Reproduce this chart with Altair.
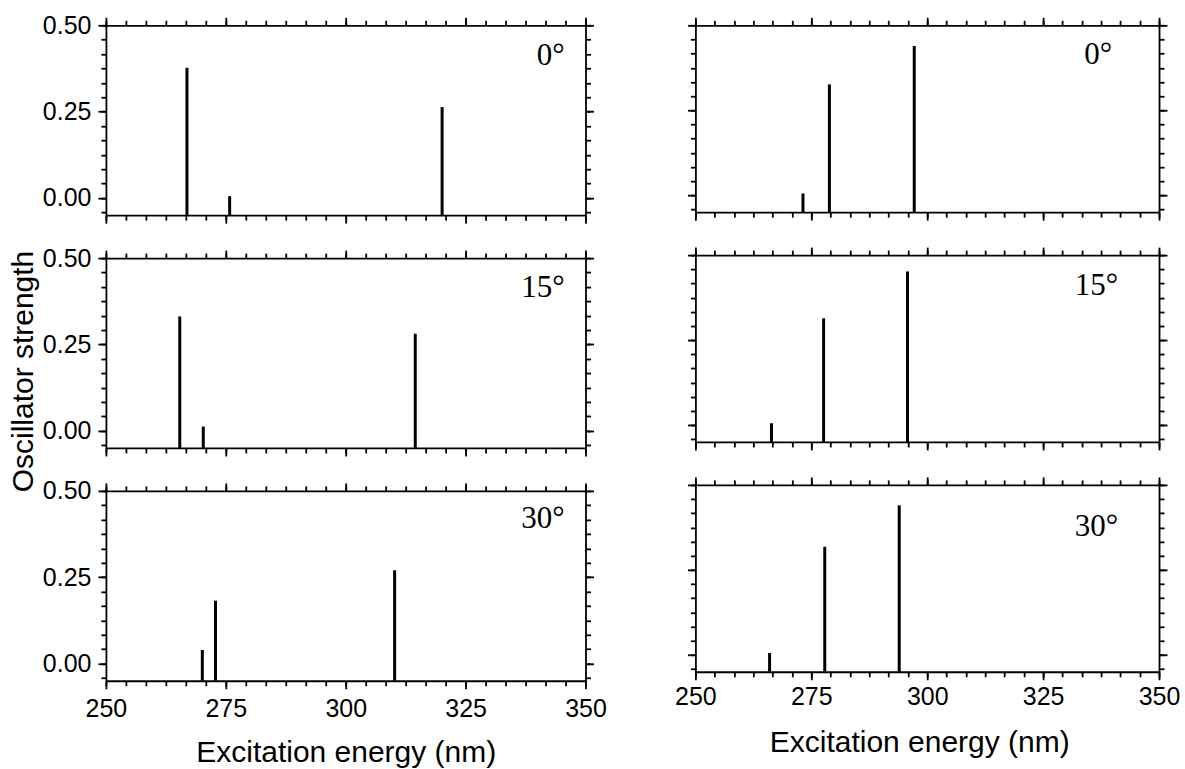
import altair as alt
import pandas as pd

# ---------------- data ----------------
angles = ["0°", "15°", "30°"]

left_nm = [[266.9, 275.8, 320.1],
           [265.4, 270.3, 314.5],
           [270.1, 272.85, 310.2]]
left_f = [[0.377, 0.005, 0.263],
          [0.331, 0.012, 0.281],
          [0.039, 0.182, 0.270]]

right_nm = [[273.2, 278.9, 297.2],
            [266.4, 277.65, 295.75],
            [266.0, 277.9, 293.96]]
right_f = [[0.005, 0.326, 0.439],
           [0.005, 0.314, 0.452],
           [0.005, 0.318, 0.440]]

x_major = [250, 275, 300, 325, 350]
y_major = [0.0, 0.25, 0.5]
x_minor = [250 + k * 25 / 6 for k in range(25)]
y_minor = [-0.25 / 6 + k * 0.25 / 6 for k in range(14)]

SANS = "Liberation Sans"
SERIF = "Liberation Serif"
LAB_FS = 25
TITLE_FS = 30
LW = 1.8


def x_axis(orient, major, labels, title_kw, lab_pad=8):
    kw = dict(orient=orient, grid=False, tickColor="black", tickWidth=LW,
              labelFlush=False, labelOverlap=False)
    if major:
        kw.update(values=x_major, tickSize=8, domain=True, domainColor="black",
                  domainWidth=LW, labels=labels)
        if labels:
            kw.update(format="d", labelFont=SANS, labelFontSize=LAB_FS,
                      labelColor="black", labelPadding=lab_pad)
    else:
        kw.update(values=x_minor, tickSize=5, domain=False, labels=False)
    kw.update(title_kw)
    return alt.Axis(**kw)


def y_axis(orient, major, labels, title_kw):
    kw = dict(orient=orient, grid=False, tickColor="black", tickWidth=LW,
              labelFlush=False, labelOverlap=False)
    if major:
        kw.update(values=y_major, tickSize=8, domain=True, domainColor="black",
                  domainWidth=LW, labels=labels)
        if labels:
            kw.update(format=".2f", labelFont=SANS, labelFontSize=LAB_FS,
                      labelColor="black", labelPadding=7)
    else:
        kw.update(values=y_minor, tickSize=5, domain=False, labels=False)
    kw.update(title_kw)
    return alt.Axis(**kw)


def panel(nm, f, label, W, H, xlabels, ylabels, xtitle_kw, ytitle_kw, lab_x, lab_y,
          lab_pad=8, top_space=0):
    df = pd.DataFrame({"nm": nm, "f": f})
    xs = alt.Scale(domain=[250, 350], nice=False, zero=False)
    ys = alt.Scale(domain=[-0.05, 0.5], nice=False, zero=False)
    base = alt.Chart(df)

    bars = base.mark_rule(strokeWidth=3, color="black").encode(
        x=alt.X("nm:Q", scale=xs, title=None,
                axis=x_axis("bottom", True, xlabels, xtitle_kw, lab_pad)),
        y=alt.Y("f:Q", scale=ys, title=None,
                axis=y_axis("left", True, ylabels, ytitle_kw)),
        y2=alt.value(H),
    )
    minor_bl = base.mark_point(opacity=0).encode(
        x=alt.X("nm:Q", scale=xs, title=None, axis=x_axis("bottom", False, False, {})),
        y=alt.Y("f:Q", scale=ys, title=None, axis=y_axis("left", False, False, {})),
    )
    major_tr = base.mark_point(opacity=0).encode(
        x=alt.X("nm:Q", scale=xs, title=None, axis=x_axis("top", True, False, {})),
        y=alt.Y("f:Q", scale=ys, title=None, axis=y_axis("right", True, False, {})),
    )
    minor_tr = base.mark_point(opacity=0).encode(
        x=alt.X("nm:Q", scale=xs, title=None, axis=x_axis("top", False, False, {})),
        y=alt.Y("f:Q", scale=ys, title=None, axis=y_axis("right", False, False, {})),
    )
    txt = alt.Chart(pd.DataFrame({"label": [label]})).mark_text(
        align="right", baseline="alphabetic", font=SERIF, fontSize=31, color="black"
    ).encode(x=alt.value(lab_x), y=alt.value(lab_y), text="label:N")

    layers = [bars, minor_bl, major_tr, minor_tr, txt]
    if top_space:
        # transparent spacer above the panel, only to shift the column down
        spacer = alt.Chart(pd.DataFrame({"label": [label]})).mark_rule(opacity=0).encode(
            x=alt.value(W / 2), y=alt.value(-top_space), y2=alt.value(0))
        layers.append(spacer)

    return (
        alt.layer(*layers)
        .resolve_scale(x="shared", y="shared")
        .resolve_axis(x="independent", y="independent")
        .properties(width=W, height=H)
    )


LW_W, LW_H = 480, 190
RW_W, RW_H = 464, 187

left_lab = [(459, 39.6), (459, 38.7), (459, 37)]
right_lab = [(417, 38.3), (423, 40), (423, 51)]

left_panels = []
right_panels = []
for i in range(3):
    last = i == 2
    xt = {}
    if last:
        xt = dict(title="Excitation energy (nm)", titleFont=SANS, titleFontSize=TITLE_FS,
                  titleFontWeight="normal", titleColor="black", titlePadding=16)
    yt = {}
    if i == 1:
        yt = dict(title="Oscillator strength", titleFont=SANS, titleFontSize=TITLE_FS,
                  titleFontWeight="normal", titleColor="black",
                  titleBaseline="alphabetic", titleX=-73, titleY=LW_H / 2 + 18)
    left_panels.append(panel(left_nm[i], left_f[i], angles[i], LW_W, LW_H,
                             last, True, xt, yt, left_lab[i][0], left_lab[i][1]))
    xt_r = {}
    if last:
        xt_r = dict(title="Excitation energy (nm)", titleFont=SANS, titleFontSize=TITLE_FS,
                    titleFontWeight="normal", titleColor="black", titlePadding=18,
                    titleX=RW_W / 2 - 8)
    right_panels.append(panel(right_nm[i], right_f[i], angles[i], RW_W, RW_H,
                              last, False, xt_r, {}, right_lab[i][0], right_lab[i][1],
                              lab_pad=5, top_space=18.5 if i == 0 else 0))

left_col = alt.vconcat(*left_panels, spacing=43, bounds="flush")
right_col = alt.vconcat(*right_panels, spacing=43, bounds="flush")

chart = alt.hconcat(left_col, right_col, spacing=68).properties(
    padding={"left": 8, "top": 6, "right": 5, "bottom": 5}
).configure_view(stroke=None)

chart.save("out.html", embed_options={"renderer": "svg", "actions": False})
